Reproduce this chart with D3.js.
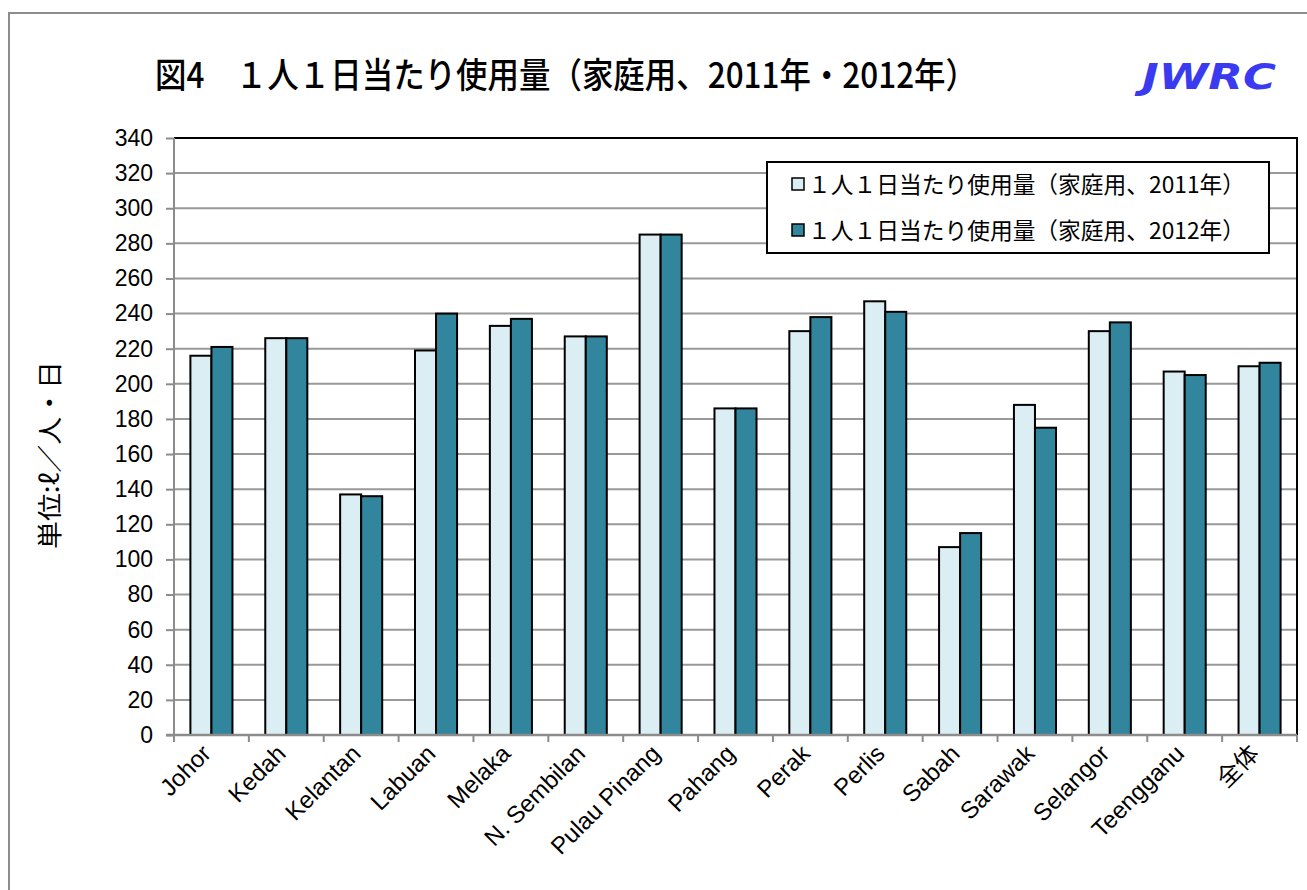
<!DOCTYPE html>
<html>
<head>
<meta charset="utf-8">
<script src="https://cdn.jsdelivr.net/npm/d3@7"></script>
<style>
  body { margin: 0; background: #fff; }
  text { fill: #000; }
</style>
</head>
<body>
<div id="chart"></div>
<script>
// data
var regions = ["Johor", "Kedah", "Kelantan", "Labuan", "Melaka", "N. Sembilan", "Pulau Pinang",
               "Pahang", "Perak", "Perlis", "Sabah", "Sarawak", "Selangor", "Teengganu", "全体"];
var use2011 = [216, 226, 137, 219, 233, 227, 285, 186, 230, 247, 107, 188, 230, 207, 210];
var use2012 = [221, 226, 136, 240, 237, 227, 285, 186, 238, 241, 115, 175, 235, 205, 212];
var seriesNames = ["１人１日当たり使用量（家庭用、2011年）", "１人１日当たり使用量（家庭用、2012年）"];
var yTicks = [0, 20, 40, 60, 80, 100, 120, 140, 160, 180, 200, 220, 240, 260, 280, 300, 320, 340];

var W = 1307, H = 890;
var plot = {left: 174, right: 1297, top: 138, bottom: 735};

var svg = d3.select("#chart").append("svg")
    .attr("width", W)
    .attr("height", H);

// outer frame
svg.append("rect")
    .attr("x", 9).attr("y", 13)
    .attr("width", W + 20).attr("height", H + 20)
    .attr("fill", "none")
    .attr("stroke", "#8c8c8c")
    .attr("stroke-width", 2);

// title and logo
svg.append("text")
    .attr("x", 155).attr("y", 88)
    .attr("font-family", "'Noto Sans CJK JP'")
    .attr("font-size", 35)
    .attr("font-weight", 500)
    .attr("textLength", 822)
    .attr("lengthAdjust", "spacingAndGlyphs")
    .text("図4　１人１日当たり使用量（家庭用、2011年・2012年）");

svg.append("text")
    .attr("x", 1142).attr("y", 89)
    .attr("font-family", "'DejaVu Sans'")
    .attr("font-size", 36)
    .attr("font-weight", "bold")
    .attr("font-style", "italic")
    .attr("textLength", 134)
    .attr("lengthAdjust", "spacingAndGlyphs")
    .style("fill", "#3a3af0")
    .text("JWRC");

// scales
var x0 = d3.scaleBand()
    .domain(regions)
    .range([plot.left, plot.right]);

var x1 = d3.scaleBand()
    .domain([0, 1])
    .range([0, x0.bandwidth()])
    .paddingOuter(0.78);

var y = d3.scaleLinear()
    .domain([0, 340])
    .range([plot.bottom, plot.top]);

var colors = ["#dbeef4", "#31859c"];

// gridlines
svg.append("g").selectAll("line")
    .data(yTicks.slice(1))
    .enter().append("line")
      .attr("x1", plot.left).attr("x2", plot.right)
      .attr("y1", function(d) { return y(d); })
      .attr("y2", function(d) { return y(d); })
      .attr("stroke", "#999")
      .attr("stroke-width", 2);

// plot border (top and right are dark)
svg.append("path")
    .attr("d", "M" + plot.left + "," + y(340) + "H" + plot.right + "V" + y(0))
    .attr("fill", "none")
    .attr("stroke", "#000")
    .attr("stroke-width", 2);

// bars
var rows = regions.map(function(r, i) { return {region: r, values: [use2011[i], use2012[i]]}; });

var groups = svg.append("g").selectAll("g")
    .data(rows)
    .enter().append("g")
      .attr("transform", function(d) { return "translate(" + x0(d.region) + ",0)"; });

groups.selectAll("rect")
    .data(function(d) { return d.values.map(function(v, k) { return {k: k, v: v}; }); })
    .enter().append("rect")
      .attr("x", function(d) { return x1(d.k); })
      .attr("y", function(d) { return y(d.v); })
      .attr("width", x1.bandwidth())
      .attr("height", function(d) { return y(0) - y(d.v); })
      .attr("fill", function(d) { return colors[d.k]; })
      .attr("stroke", "#000")
      .attr("stroke-width", 2);

// y axis
var yAxis = svg.append("g")
    .attr("transform", "translate(" + plot.left + ",0)")
    .call(d3.axisLeft(y).tickValues(yTicks).tickSize(8).tickPadding(13).tickSizeOuter(0));
yAxis.select(".domain").attr("stroke", "#8c8c8c").attr("stroke-width", 2)
    .attr("d", "M0," + y(340) + "V" + (y(0) + 7));
yAxis.selectAll(".tick line").attr("stroke", "#8c8c8c").attr("stroke-width", 2);
yAxis.selectAll(".tick text")
    .attr("font-family", "'Liberation Sans'")
    .attr("font-size", 23)
    .style("fill", "#000");

// x axis
svg.append("line")
    .attr("x1", plot.left - 8).attr("x2", plot.right)
    .attr("y1", y(0)).attr("y2", y(0))
    .attr("stroke", "#8c8c8c")
    .attr("stroke-width", 2.5);

svg.append("g").selectAll("line")
    .data(regions.slice(1).concat(["end"]))
    .enter().append("line")
      .attr("x1", function(d) { return d === "end" ? plot.right : x0(d); })
      .attr("x2", function(d) { return d === "end" ? plot.right : x0(d); })
      .attr("y1", y(0))
      .attr("y2", y(0) + 7)
      .attr("stroke", "#8c8c8c")
      .attr("stroke-width", 2);

svg.append("g").selectAll("text")
    .data(regions)
    .enter().append("text")
      .attr("transform", function(d) {
        return "translate(" + (x0(d) + x0.bandwidth() / 2 + 1) + "," + (y(0) + 20) + ") rotate(-45)";
      })
      .attr("text-anchor", "end")
      .attr("font-family", function(d) { return d === "全体" ? "'Noto Sans CJK JP'" : "'Liberation Sans'"; })
      .attr("font-size", 24)
      .text(function(d) { return d; });

// y axis title
svg.append("text")
    .attr("transform", "translate(59,455) rotate(-90)")
    .attr("text-anchor", "middle")
    .attr("font-family", "'Noto Sans CJK JP'")
    .attr("font-size", 25)
    .attr("textLength", 188)
    .attr("lengthAdjust", "spacingAndGlyphs")
    .text("単位:ℓ／人・日");

// legend
var legend = svg.append("g");
legend.append("rect")
    .attr("x", 767).attr("y", 162)
    .attr("width", 502).attr("height", 91)
    .attr("fill", "#fff")
    .attr("stroke", "#000")
    .attr("stroke-width", 2);

var items = legend.selectAll("g")
    .data(seriesNames)
    .enter().append("g")
      .attr("transform", function(d, i) { return "translate(792," + (184 + i * 46) + ")"; });

items.append("rect")
    .attr("x", 0).attr("y", -6)
    .attr("width", 12).attr("height", 12)
    .attr("fill", function(d, i) { return colors[i]; })
    .attr("stroke", "#000")
    .attr("stroke-width", 1.5);

items.append("text")
    .attr("x", 16).attr("y", 9)
    .attr("font-family", "'Noto Sans CJK JP'")
    .attr("font-size", 23)
    .attr("textLength", 437)
    .attr("lengthAdjust", "spacingAndGlyphs")
    .text(function(d) { return d; });
</script>
</body>
</html>
